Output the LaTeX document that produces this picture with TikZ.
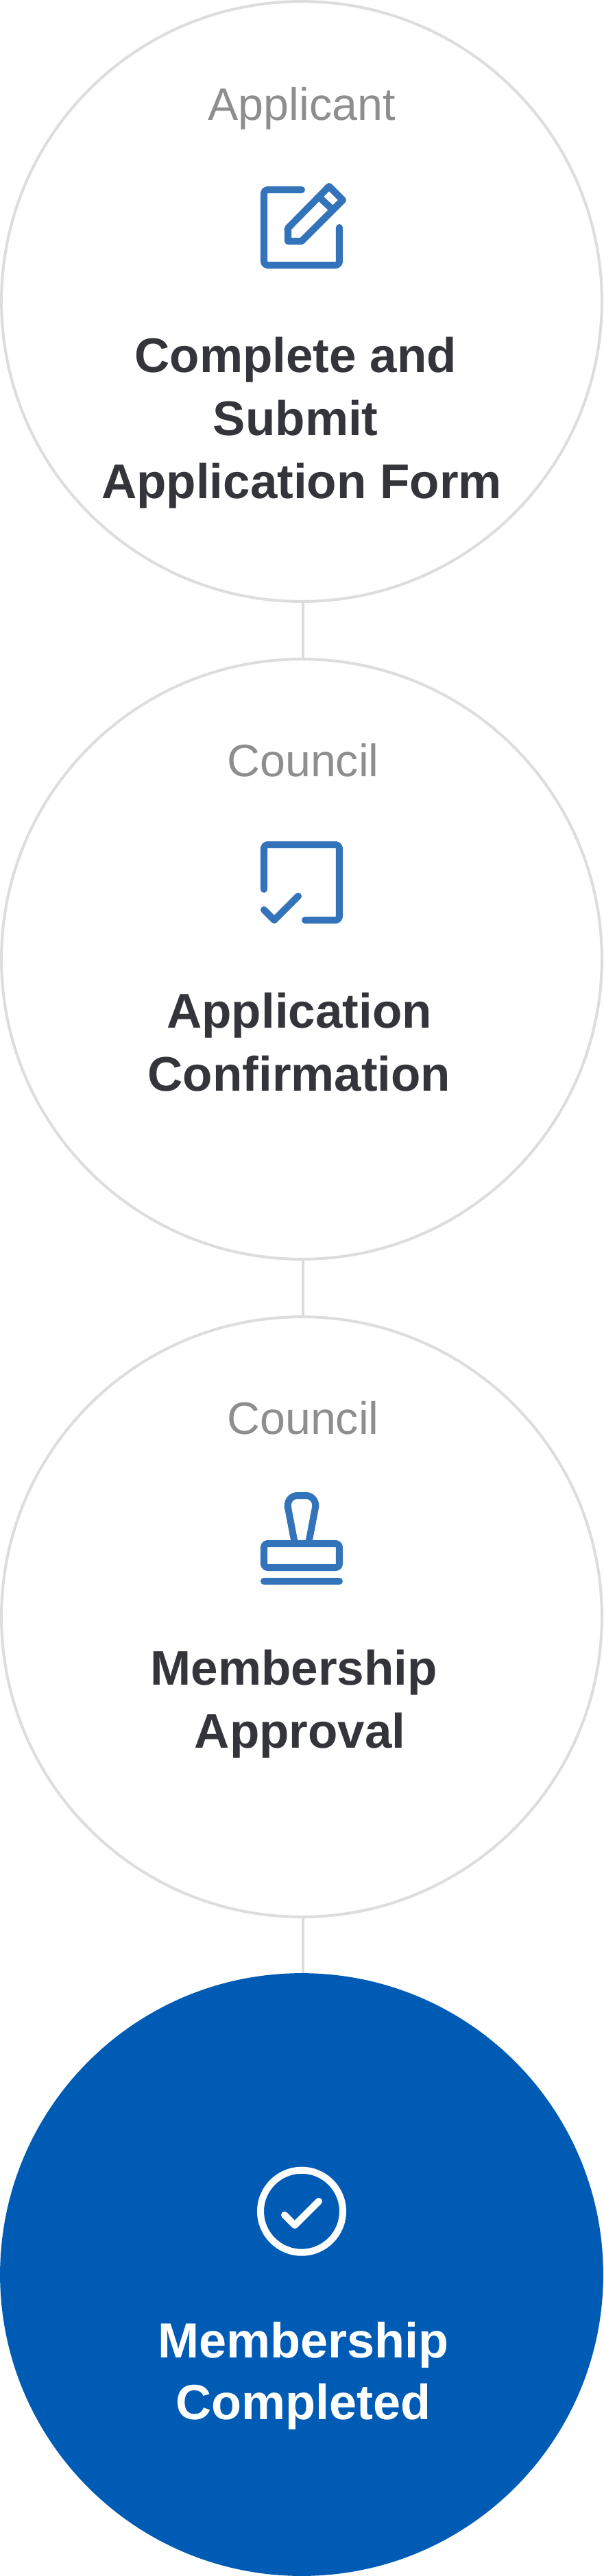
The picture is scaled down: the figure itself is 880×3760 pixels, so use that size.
\documentclass[tikz,border=0pt]{standalone}
\usepackage{fontspec}
\setmainfont{Liberation Sans}
\usepackage{xcolor}
\usetikzlibrary{calc}
\definecolor{ringgray}{HTML}{DDDDDD}
\definecolor{muted}{HTML}{8E8E8E}
\definecolor{ink}{HTML}{33353B}
\definecolor{iconblue}{HTML}{3373BA}
\definecolor{fillblue}{HTML}{005BB5}
\tikzset{
  stepring/.style={circle, draw=ringgray, fill=white, line width=2.3pt, minimum size=17.52cm, inner sep=0pt, outer sep=0pt},
  stepdone/.style={circle, fill=fillblue, minimum size=17.6cm, inner sep=0pt, outer sep=0pt},
  link/.style={draw=ringgray, line width=2.3pt},
  role/.style={text=muted, font=\fontsize{37.8}{44}\selectfont},
  title/.style={text=ink, font=\fontsize{40.4}{52.4}\selectfont\bfseries, align=center},
  titledone/.style={text=white, font=\fontsize{41}{51}\selectfont\bfseries, align=center},
  iconline/.style={draw=iconblue, line width=5.7pt, line cap=round, line join=round},
  iconwhite/.style={draw=white, line width=5.7pt, line cap=round, line join=round},
}
\begin{document}
\begin{tikzpicture}[x=0.02cm, y=-0.02cm]
\useasboundingbox (0,0) rectangle (880,3760);
% rings
\node[stepring] (ring1) at (440,440) {};
\node[stepring] (ring2) at (440,1400) {};
\node[stepring] (ring3) at (440,2360) {};
\node[stepdone] (ring4) at (440,3320) {};

% links
\draw[link] ([xshift=0.04cm]ring1.south) -- ([xshift=0.04cm]ring2.north);
\draw[link] ([xshift=0.04cm]ring2.south) -- ([xshift=0.04cm]ring3.north);
\draw[link] ([xshift=0.04cm]ring3.south) -- ([xshift=0.04cm]ring4.north);

% applicant
\node[role] (role1) at (440,158) {Applicant};
\begin{scope}[shift={(340,230)}]
\draw[iconline, rounded corners=1mm] (100,47) -- (45,47) -- (45,157) -- (155,157) -- (155,102);
\draw[iconline] (80,122) -- (80,103) -- (140,42) -- (160,62) -- (100,122) -- cycle;
\draw[iconline] (128,60) -- (142,73);
\end{scope}
\node[title] (title1) at (440,617) {Complete and\hspace{10pt}\null\\Submit\hspace{10pt}\null\\Application Form};

% confirmation
\node[role] (role2) at (442,1110) {Council};
\begin{scope}[shift={(340,1190)}]
\draw[iconline, rounded corners=1mm] (45,108) -- (45,43) -- (155,43) -- (155,153) -- (105,153);
\draw[iconline] (45,138) -- (60,153) -- (95,118);
\end{scope}
\node[title] (title2) at (436.5,1521) {Application\\Confirmation};

% approval
\node[role] (role3) at (442,2070) {Council};
\begin{scope}[shift={(340,2150)}]
\draw[iconline, rounded corners=1mm] (45,103) rectangle (155,138);
\draw[iconline] (45,158) -- (155,158);
\draw[iconline] (90,103) -- (80.5,53) .. controls (77,42) and (85,33) .. (93,33) -- (107,33) .. controls (115,33) and (123,42) .. (119.5,53) -- (110,103);
\end{scope}
\node[title] (title3) at (437.6,2487) {Membership\hspace{10pt}\null\\Approval};

% completed
\begin{scope}[shift={(340,3130)}]
\draw[iconwhite] (100,97.7) circle (60);
\draw[iconwhite] (75,103) -- (90,118) -- (125,83);
\end{scope}
\node[titledone] (title4) at (442.5,3468) {Membership\\Completed};
\end{tikzpicture}
\end{document}
